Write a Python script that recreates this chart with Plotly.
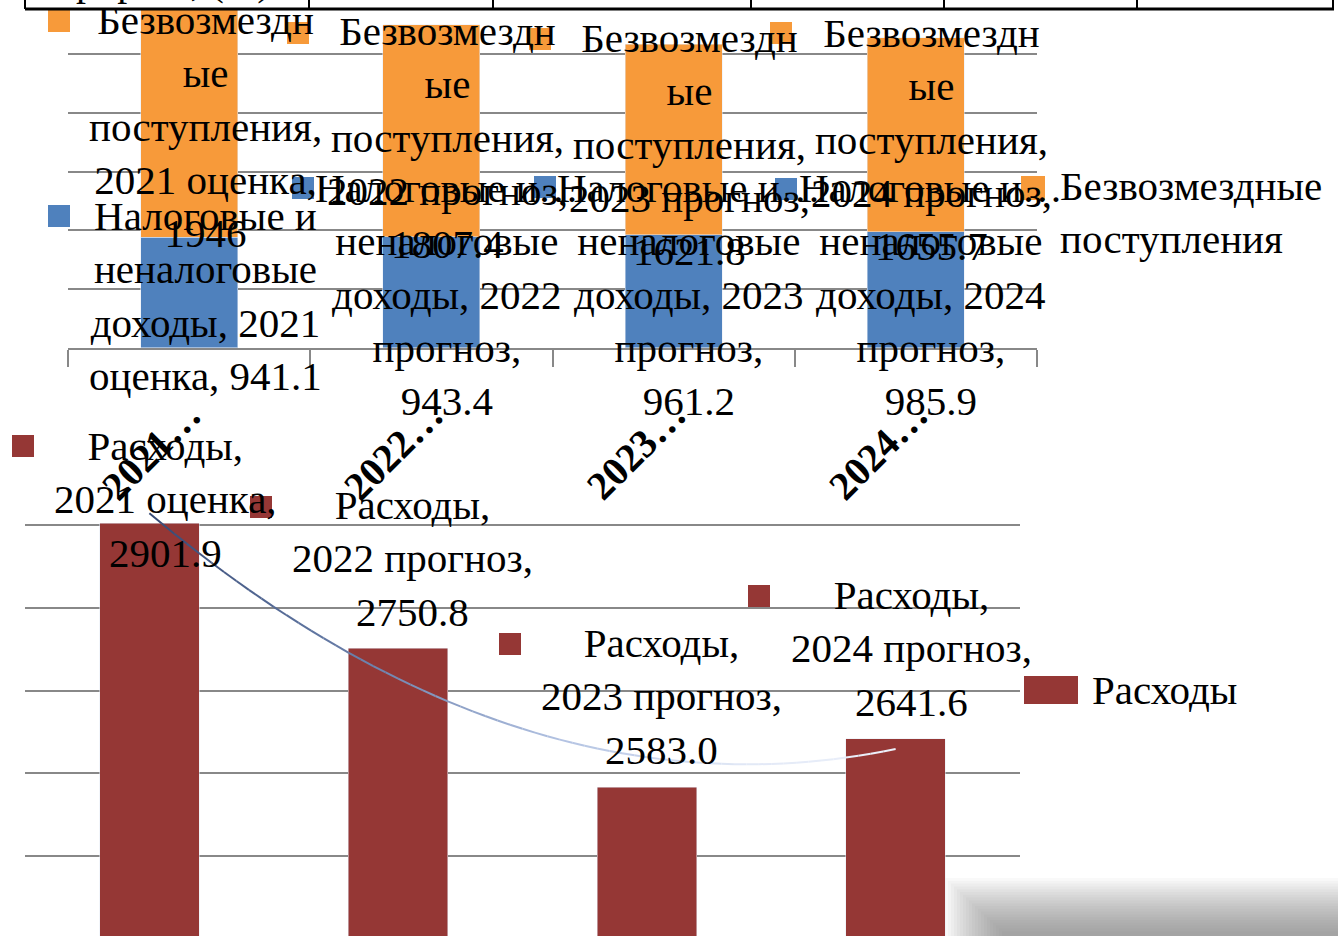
"""
Budget chart: revenues (stacked) and expenses with trend, screenshot of a Word page.
"""

import numpy as np
import plotly.graph_objects as go

W, H = 1338, 936

categories = ["2021 оценка", "2022 прогноз", "2023 прогноз", "2024 прогноз"]
tax_income = [941.1, 943.4, 961.2, 985.9]
grants = [1946.0, 1807.4, 1621.8, 1655.7]
expenses = [2901.9, 2750.8, 2583.0, 2641.6]

TAX_NAME = "Налоговые и неналоговые доходы"
GRANT_NAME = "Безвозмездные поступления"
EXP_NAME = "Расходы"

BLUE = "#4F81BD"
ORANGE = "#F79A3A"
RED = "#953735"
GRID = "#888888"
FONT = "Liberation Serif, Times New Roman, serif"
FS = 41
LH = FS * 1.3

# label placement in page pixels (centre x, first-line centre y)
grant_lbl = [(205, 22), (447, 33), (689, 40), (931, 35)]
grant_key = [(59, 21), (298, 33), (540, 39), (781, 33)]
tax_lbl = [(205, 218), (447, 190), (689, 190), (931, 190)]
tax_key = [(59, 216), (303, 188), (545, 187), (786, 189)]
exp_lbl = [(165, 448), (412, 507), (661, 645), (911, 597)]
exp_key = [(23, 446), (261, 507), (510, 644), (759, 596)]


def px(x):
    return x / W


def py(y):
    return 1 - y / H


idx = list(range(len(categories)))
fig = go.Figure()

# top chart: stacked revenues
fig.add_trace(go.Bar(x=idx, y=tax_income, name=TAX_NAME, marker_color=BLUE,
                     xaxis="x", yaxis="y"))
fig.add_trace(go.Bar(x=idx, y=grants, name=GRANT_NAME, marker_color=ORANGE,
                     xaxis="x", yaxis="y"))

# bottom chart: expenses
fig.add_trace(go.Bar(x=idx, y=expenses, name=EXP_NAME, marker_color=RED,
                     xaxis="x2", yaxis="y2"))

# polynomial trend line (2nd order) fading out to the right
coef = np.polyfit(idx, expenses, 2)
tx = np.linspace(idx[0], idx[-1], 61)
ty = np.polyval(coef, tx)
stops = [(0.0, (55, 75, 118)), (0.3, (110, 132, 175)), (0.55, (178, 194, 226)),
         (0.8, (225, 232, 246)), (1.0, (236, 240, 250))]


def grad(t):
    for (t0, c0), (t1, c1) in zip(stops[:-1], stops[1:]):
        if t0 <= t <= t1:
            f = (t - t0) / (t1 - t0)
            return "rgb(%d,%d,%d)" % tuple(round(a + (b - a) * f) for a, b in zip(c0, c1))
    return "rgb(%d,%d,%d)" % stops[-1][1]


for i in range(len(tx) - 1):
    fig.add_trace(go.Scatter(x=tx[i:i + 2], y=ty[i:i + 2], mode="lines",
                             line=dict(color=grad(i / (len(tx) - 2)), width=2),
                             hoverinfo="skip", showlegend=False,
                             xaxis="x2", yaxis="y2"))

ann = []
shapes = []


def key(cx, cy, color, w=22, h=22):
    shapes.append(dict(type="rect", xref="paper", yref="paper",
                       x0=px(cx - w / 2), x1=px(cx + w / 2),
                       y0=py(cy + h / 2), y1=py(cy - h / 2),
                       fillcolor=color, line_width=0, layer="above"))


def label(cx, cy, text):
    ann.append(dict(x=px(cx), y=py(cy - LH / 2), xref="paper", yref="paper",
                    xanchor="center", yanchor="top", text=text, showarrow=False,
                    align="center", font=dict(family=FONT, size=FS, color="black")))


# data labels with legend keys
for i, (cat, v) in enumerate(zip(categories, grants)):
    key(*grant_key[i], ORANGE)
    label(*grant_lbl[i], "Безвозмездн<br>ые<br>поступления,<br>%s,<br>%g" % (cat, v))

for i, (cat, v) in enumerate(zip(categories, tax_income)):
    year, kind = cat.split()
    key(*tax_key[i], BLUE)
    if i == 0:
        txt = "Налоговые и<br>неналоговые<br>доходы, %s<br>%s, %g" % (year, kind, v)
    else:
        txt = "Налоговые и…<br>неналоговые<br>доходы, %s<br>%s,<br>%g" % (year, kind, v)
    label(*tax_lbl[i], txt)

for i, (cat, v) in enumerate(zip(categories, expenses)):
    key(*exp_key[i], RED)
    label(*exp_lbl[i], "%s,<br>%s,<br>%.1f" % (EXP_NAME, cat, v))

# rotated, truncated category labels of the top chart
for i, cat in enumerate(categories):
    ann.append(dict(x=i, xref="x", xshift=-38, y=py(450), yref="paper",
                    text="<b>%s…</b>" % cat.split()[0], textangle=-45,
                    showarrow=False, xanchor="center", yanchor="middle",
                    font=dict(family=FONT, size=40, color="black")))

# legends
key(1033, 188, ORANGE, 24, 24)
ann.append(dict(x=px(1058), y=py(188 - LH / 2), xref="paper", yref="paper",
                xanchor="left", yanchor="top", align="left", showarrow=False,
                text="Безвозмездные<br>поступления",
                font=dict(family=FONT, size=FS, color="black")))
key(1051, 690, RED, 54, 28)
ann.append(dict(x=px(1090), y=py(690), xref="paper", yref="paper",
                xanchor="left", yanchor="middle", showarrow=False, text=EXP_NAME,
                font=dict(family=FONT, size=FS, color="black")))

# table border at the top of the page
shapes.append(dict(type="line", xref="paper", yref="paper", x0=px(25), x1=px(1334),
                   y0=py(9), y1=py(9), line=dict(color="black", width=3)))
for vx in [25, 309, 493, 751, 944, 1137, 1333]:
    shapes.append(dict(type="line", xref="paper", yref="paper", x0=px(vx), x1=px(vx),
                       y0=py(9), y1=1.01, line=dict(color="black", width=2)))
ann.append(dict(x=px(45), y=py(6), xref="paper", yref="paper", xanchor="left",
                yanchor="bottom", showarrow=False, text="Прирост, (%)",
                font=dict(family=FONT, size=40, color="black")))

# soft page shadow bottom right
for k in range(20):
    shapes.append(dict(type="rect", xref="paper", yref="paper",
                       x0=px(945 + k * 3), x1=1, y0=0, y1=py(878 + k * 2.8),
                       fillcolor="rgba(90,90,90,0.04)", line_width=0, layer="below"))

fig.update_layout(
    width=W, height=H,
    margin=dict(l=0, r=0, t=0, b=0),
    paper_bgcolor="white", plot_bgcolor="rgba(0,0,0,0)",
    barmode="stack", bargap=0.6, showlegend=False,
    font=dict(family=FONT, color="black"),
    xaxis=dict(domain=[px(68), px(1037)], range=[-0.5, 3.5],
               tickvals=[-0.5, 0.5, 1.5, 2.5, 3.5], ticks="outside", ticklen=17,
               tickwidth=2, tickcolor=GRID, showticklabels=False, showgrid=False,
               zeroline=False, showline=True, linecolor=GRID, linewidth=2),
    yaxis=dict(domain=[py(347.7), 1], range=[0, 2962], dtick=500, tick0=0,
               showgrid=True, gridcolor=GRID, gridwidth=2, showticklabels=False,
               zeroline=False),
    xaxis2=dict(domain=[px(25), px(1020)], range=[-0.5, 3.5], visible=False,
                anchor="y2"),
    yaxis2=dict(domain=[0, py(442.2) + 0.0005], range=[2403.6, 3000.4], dtick=100,
                tick0=0, showgrid=True, gridcolor=GRID, gridwidth=2,
                showticklabels=False, zeroline=False, anchor="x2"),
    annotations=ann,
    shapes=shapes,
)

# the page body margin would shift the figure by 8px
fig.write_html("out.html", config={"displayModeBar": False},
               post_script="document.body.style.margin='0';")
